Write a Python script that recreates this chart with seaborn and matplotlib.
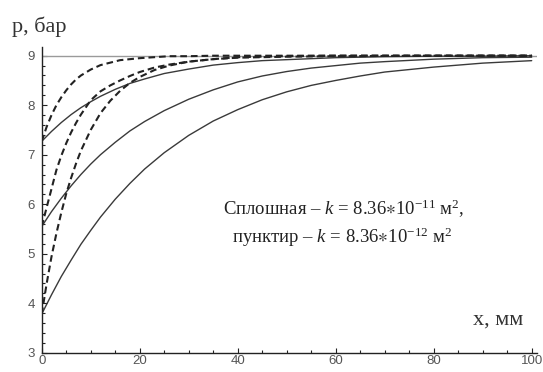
import numpy as np
import pandas as pd
import matplotlib
matplotlib.use("Agg")
import matplotlib.pyplot as plt
from matplotlib.ticker import MultipleLocator
import seaborn as sns

# ---- data ----
x_solid = [0, 2, 4, 6, 8, 10, 12, 15, 18, 21, 25, 30, 35, 40, 45, 50, 55, 60, 65, 70, 80, 90, 100]
p_solid_top = [7.27, 7.47, 7.65, 7.81, 7.95, 8.07, 8.18, 8.32, 8.44, 8.53, 8.64, 8.73, 8.81, 8.86, 8.90, 8.92, 8.94, 8.96, 8.97, 8.98, 8.99, 8.99, 9.00]
p_solid_mid = [5.55, 5.85, 6.12, 6.37, 6.60, 6.81, 7.00, 7.25, 7.48, 7.67, 7.89, 8.12, 8.31, 8.47, 8.59, 8.68, 8.75, 8.80, 8.85, 8.88, 8.93, 8.96, 8.97]
p_solid_low = [3.78, 4.17, 4.54, 4.87, 5.19, 5.47, 5.74, 6.10, 6.42, 6.71, 7.04, 7.39, 7.68, 7.91, 8.11, 8.27, 8.40, 8.50, 8.59, 8.67, 8.77, 8.85, 8.90]

x_dash = [0, 1, 2, 3, 4, 5, 6, 7, 8, 10, 12, 14, 16, 18, 20, 23, 26, 30, 35, 40, 50, 60, 80, 100]
p_dash_top = [7.27, 7.56, 7.80, 8.00, 8.16, 8.30, 8.42, 8.52, 8.60, 8.72, 8.81, 8.86, 8.91, 8.93, 8.95, 8.97, 8.99, 8.99, 9.0, 9.0, 9.0, 9.0, 9.0, 9.0]
p_dash_mid = [5.55, 5.93, 6.31, 6.69, 6.98, 7.23, 7.45, 7.64, 7.81, 8.10, 8.28, 8.40, 8.50, 8.59, 8.67, 8.76, 8.82, 8.88, 8.93, 8.96, 8.98, 8.99, 9.0, 9.0]
p_dash_low = [3.78, 4.39, 4.94, 5.41, 5.83, 6.21, 6.53, 6.82, 7.08, 7.50, 7.84, 8.09, 8.29, 8.45, 8.57, 8.71, 8.80, 8.88, 8.93, 8.97, 8.99, 9.0, 9.0, 9.0]

p_limit = 9.0
x_ticks = [0, 20, 40, 60, 80, 100]
y_ticks = [3, 4, 5, 6, 7, 8, 9]

y_label = "p, бар"
x_label = "x, мм"
note1 = r"Сплошная – $k$ = 8.36$\ast$10$^{-11}$ м$^{2}$,"
note2 = r"пунктир – $k$ = 8.36$\ast$10$^{-12}$ м$^{2}$"

# ---- style ----
sns.set_style("white")
plt.rcParams["font.family"] = ["Liberation Serif", "DejaVu Serif"]
plt.rcParams["mathtext.fontset"] = "custom"
plt.rcParams["mathtext.rm"] = "Liberation Serif"
plt.rcParams["mathtext.it"] = "Liberation Serif:italic"
plt.rcParams["mathtext.fallback"] = "stix"

W, H = 543, 372
fig = plt.figure(figsize=(W / 100, H / 100), dpi=100)
x0px, x1px = 41.7, 41.7 + 101 * 4.9
ytop_px, ybot_px = 352.7 - 6.18 * 49.5, 352.7
ax = fig.add_axes([x0px / W, 1 - ybot_px / H, (x1px - x0px) / W, (ybot_px - ytop_px) / H])

rows = []
for name, xs, ps in [("s1", x_solid, p_solid_top), ("s2", x_solid, p_solid_mid), ("s3", x_solid, p_solid_low),
                     ("d1", x_dash, p_dash_top), ("d2", x_dash, p_dash_mid), ("d3", x_dash, p_dash_low)]:
    for xv, pv in zip(xs, ps):
        rows.append({"x": xv, "p": pv, "curve": name})
df = pd.DataFrame(rows)

ax.axhline(p_limit, color="#9a9a9a", lw=1.0, zorder=1)

for name in ["s1", "s2", "s3"]:
    sns.lineplot(data=df[df.curve == name], x="x", y="p", ax=ax, color="#3a3a3a",
                 lw=1.0, errorbar=None, sort=False, zorder=3)
for name in ["d1", "d2", "d3"]:
    sns.lineplot(data=df[df.curve == name], x="x", y="p", ax=ax, color="#222222",
                 lw=1.5, errorbar=None, sort=False, zorder=3, linestyle=(0, (3.2, 1.9)))

ax.set_xlim(0, 101)
ax.set_ylim(3, 9.18)
ax.set_xlabel("")
ax.set_ylabel("")
for s in ["top", "right"]:
    ax.spines[s].set_visible(False)
for s in ["left", "bottom"]:
    ax.spines[s].set_color("#222222")
    ax.spines[s].set_linewidth(1.0)

ax.xaxis.set_minor_locator(MultipleLocator(5))
ax.yaxis.set_minor_locator(MultipleLocator(0.2))
ax.set_xticks(x_ticks)
ax.set_yticks(y_ticks)
ax.tick_params(which="both", direction="in", color="#222222", width=0.8,
               labelsize=9.5, labelcolor="#555555", labelfontfamily="Liberation Sans")
ax.tick_params(which="major", length=3.6)
ax.tick_params(which="minor", length=2.2)
ax.tick_params(axis="y", which="major", pad=5)
ax.tick_params(axis="x", which="major", pad=1.5)
ax.tick_params(axis="both", which="both", top=False, right=False, bottom=True, left=True)

fig.text(12 / W, 1 - 27 / H, y_label, fontsize=16, color="#333333", ha="left", va="center")
fig.text(498 / W, 1 - 320 / H, x_label, fontsize=16, color="#333333", ha="center", va="center")

ax.text(61.7, 5.78, note1, fontsize=13.5, color="#222222", ha="center", va="baseline")
ax.text(61.3, 5.22, note2, fontsize=13.5, color="#222222", ha="center", va="baseline")

fig.savefig("out.png", dpi=100)
